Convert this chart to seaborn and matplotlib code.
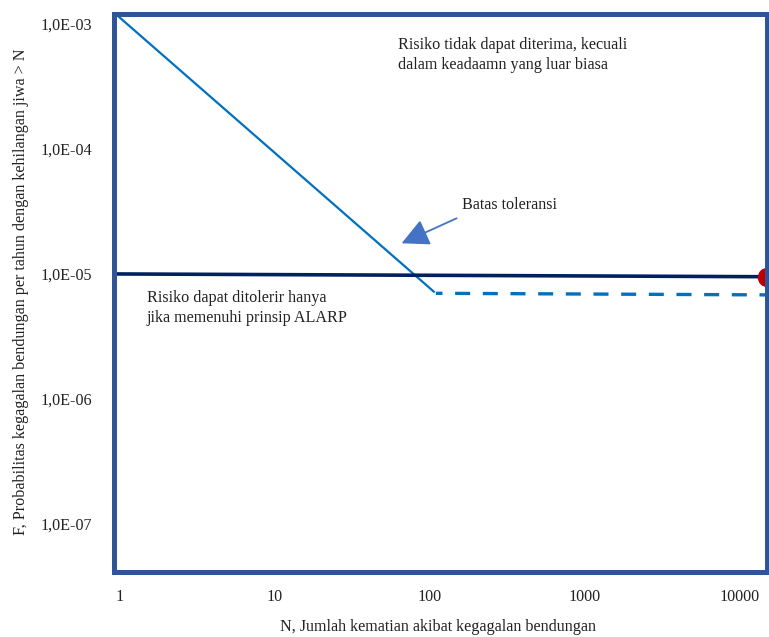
import numpy as np
import pandas as pd
import matplotlib
matplotlib.use("Agg")
import matplotlib.pyplot as plt
import matplotlib.ticker as mticker
import seaborn as sns

# Values
diag_n = [0.95, 107]          # unacceptable-risk limit (diagonal)
diag_f = [1.2e-3, 7.2e-6]
alarp_n = [0.95, 15000]       # ALARP line (solid navy)
alarp_f = [1.0e-5, 9.5e-6]
dash_n = [110, 15000]         # lower limit (dashed)
dash_f = [7.0e-6, 6.8e-6]
dot_n = [15000]
dot_f = [9.5e-6]
x_ticks = [1, 10, 100, 1000, 10000]
y_ticks = [1e-3, 1e-4, 1e-5, 1e-6, 1e-7]

sns.set_style("white")
plt.rcParams["font.family"] = ["Liberation Serif", "DejaVu Serif"]
plt.rcParams["font.size"] = 11.6

fig = plt.figure(figsize=(7.69, 6.37), dpi=100)
ax = fig.add_axes([113.5 / 769, 1 - 572 / 637, (767 - 113.5) / 769, (572 - 14) / 637])

sns.lineplot(x=diag_n, y=diag_f, ax=ax, color="#0070C0", linewidth=1.6)
sns.lineplot(x=alarp_n, y=alarp_f, ax=ax, color="#002060", linewidth=2.6)
sns.lineplot(x=dash_n, y=dash_f, ax=ax, color="#0070C0", linewidth=2.4,
             linestyle=(2.5, (4.5, 3.8)))
ax.plot(dot_n, dot_f, "o", color="#C00000", markersize=13, clip_on=False, zorder=2)

ax.set_xscale("log")
ax.set_yscale("log")
ax.set_xlim(0.92, 15000)
ax.set_ylim(4.13e-8, 1.2e-3)

ax.xaxis.set_major_locator(mticker.FixedLocator(x_ticks))
ax.xaxis.set_minor_locator(mticker.NullLocator())
ax.xaxis.set_major_formatter(mticker.FuncFormatter(lambda v, p: f"{int(round(v))}"))
ax.yaxis.set_major_locator(mticker.FixedLocator(y_ticks))
ax.yaxis.set_minor_locator(mticker.NullLocator())


def sci_comma(v, p):
    e = int(np.floor(np.log10(v) + 1e-9))
    m = v / 10 ** e
    return f"{m:.1f}E{e:+03d}".replace(".", ",")


ax.yaxis.set_major_formatter(mticker.FuncFormatter(sci_comma))
ax.tick_params(axis="both", length=0, labelsize=11.6, colors="#222222")
ax.tick_params(axis="y", pad=15.5)
ax.tick_params(axis="x", pad=12.5)

for s in ax.spines.values():
    s.set_visible(True)
    s.set_color("#2F5597")
    s.set_linewidth(3.6)

ax.text(0.435, 0.958, "Risiko tidak dapat diterima, kecuali\ndalam keadaamn yang luar biasa",
        transform=ax.transAxes, ha="left", va="top", linespacing=1.3, color="#222222")
ax.text(0.533, 0.658, "Batas toleransi", transform=ax.transAxes,
        ha="left", va="center", color="#222222")
ax.text(0.051, 0.505, "Risiko dapat ditolerir hanya\njika memenuhi prinsip ALARP",
        transform=ax.transAxes, ha="left", va="top", linespacing=1.3, color="#222222")
ax.annotate("", xy=(0.437, 0.587), xytext=(0.529, 0.636), xycoords="axes fraction",
            arrowprops=dict(arrowstyle="-|>,head_length=0.6,head_width=0.3",
                            color="#4472C4", lw=1.3, mutation_scale=28))

fig.text(21 / 769, 1 - 292 / 637,
         "F, Probabilitas kegagalan bendungan per tahun dengan kehilangan jiwa > N",
         rotation=90, ha="center", va="center", color="#222222")
fig.text(438 / 769, 1 - 627 / 637, "N, Jumlah kematian akibat kegagalan bendungan",
         ha="center", va="center", color="#222222")

fig.savefig("out.png", dpi=100)
